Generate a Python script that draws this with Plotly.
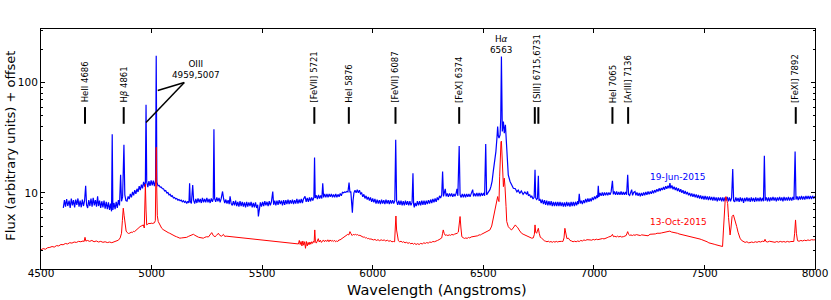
import math
import plotly.graph_objects as go

# ---------------- data (wavelength in Angstrom, flux in arbitrary units + offset) ----------------
jun_points = [
    (4601,7.3),(4606,8.6),(4611,7.5),(4616,8.8),(4621,7.6),(4627,8.5),(4632,7.3),(4637,8.9),(4642,7.7),(4647,8.6),
    (4652,7.4),(4657,8.7),(4662,7.8),(4667,8.9),(4672,7.5),(4677,8.5),(4682,7.4),(4687,8.7),(4692,7.6),(4697,8.5),
    (4702,11.6),(4706,7.8),(4711,7.3),(4716,8.6),(4721,7.6),(4726,8.9),(4731,7.5),(4736,9.0),(4741,7.7),(4746,8.6),
    (4751,7.5),(4756,9.3),(4760,7.6),(4765,8.5),(4770,7.3),(4775,8.4),(4780,7.4),(4785,8.5),(4790,7.2),(4795,8.3),
    (4800,7.1),(4805,8.2),(4810,7.0),(4815,8.0),(4819,6.8),(4822,34.0),(4825,7.0),(4830,8.1),(4835,7.1),(4840,8.3),
    (4845,7.3),(4850,8.6),(4855,7.7),(4860,14.6),(4864,8.4),(4869,9.2),(4875,27.3),(4879,9.6),(4884,8.5),(4889,8.4),
    (4894,9.3),(4899,8.8),(4904,9.8),(4909,9.1),(4914,10.2),(4919,9.5),(4924,10.6),(4929,9.8),(4934,10.9),(4939,10.2),
    (4944,11.5),(4949,10.6),(4954,11.9),(4959,11.0),(4964,12.6),(4969,11.4),(4972,12.4),(4975,63.0),(4978,12.6),(4983,11.3),
    (4988,12.8),(4993,11.6),(4998,13.0),(5003,11.7),(5008,12.9),(5013,11.5),(5018,12.8),(5021,176.0),(5024,12.5),(5029,11.6),
    (5034,11.7),(5039,11.3),(5044,11.3),(5049,10.9),(5054,10.9),(5059,10.4),(5064,10.5),(5069,10.0),(5074,10.1),(5079,9.6),
    (5084,9.7),(5089,9.3),(5094,9.4),(5099,9.0),(5104,9.1),(5109,8.8),(5114,8.9),(5119,8.6),(5124,8.7),(5129,8.5),
    (5134,8.6),(5139,8.3),(5144,8.5),(5149,8.2),(5154,8.4),(5159,8.0),(5164,8.4),(5169,8.1),(5172,12.2),(5175,8.4),
    (5180,8.0),(5186,11.8),(5190,8.6),(5195,8.0),(5200,8.8),(5205,8.1),(5210,8.9),(5215,8.2),(5220,8.8),(5225,8.1),
    (5230,9.0),(5235,8.2),(5240,8.8),(5245,8.2),(5250,9.0),(5255,8.2),(5260,8.8),(5265,8.1),(5270,8.9),(5275,8.3),
    (5279,8.8),(5282,37.9),(5285,8.9),(5290,8.3),(5295,9.1),(5300,8.4),(5305,9.0),(5310,8.2),(5315,8.9),(5321,10.3),
    (5326,8.8),(5331,8.1),(5336,8.7),(5341,8.0),(5346,8.6),(5351,7.9),(5355,9.3),(5360,8.0),(5365,7.7),(5370,8.4),
    (5375,7.7),(5380,8.5),(5385,7.6),(5390,8.3),(5395,7.5),(5400,8.4),(5405,7.6),(5410,8.3),(5415,7.5),(5420,8.2),
    (5425,7.4),(5430,8.3),(5435,7.5),(5440,8.2),(5445,7.6),(5450,8.3),(5455,7.4),(5460,8.1),(5465,7.4),(5470,8.2),
    (5475,7.3),(5480,7.8),(5483,6.1),(5487,7.5),(5492,8.2),(5497,7.5),(5502,8.3),(5507,7.6),(5512,8.4),(5517,7.7),
    (5522,8.3),(5527,7.6),(5532,8.4),(5537,7.7),(5542,8.3),(5548,10.3),(5552,7.8),(5557,8.5),(5562,7.7),(5567,8.5),
    (5572,7.8),(5577,8.6),(5582,7.9),(5587,8.5),(5592,7.7),(5597,8.6),(5602,7.8),(5607,8.6),(5612,7.9),(5617,8.7),
    (5622,7.9),(5627,8.6),(5632,8.0),(5637,8.7),(5642,7.9),(5647,8.6),(5652,8.0),(5657,8.8),(5662,8.0),(5667,8.7),
    (5672,8.1),(5677,8.8),(5682,8.1),(5687,8.8),(5694,9.3),(5699,8.3),(5704,9.0),(5709,8.3),(5714,9.1),(5719,8.4),
    (5724,9.1),(5729,8.5),(5734,9.1),(5737,20.9),(5740,9.0),(5745,9.5),(5750,8.8),(5755,9.6),(5760,8.9),(5765,9.5),
    (5770,8.9),(5774,12.2),(5778,9.1),(5783,9.8),(5788,9.1),(5793,9.8),(5798,9.1),(5803,9.8),(5808,9.2),(5813,9.8),
    (5818,9.1),(5823,9.7),(5828,9.1),(5833,9.8),(5838,9.1),(5843,9.7),(5848,9.2),(5853,9.9),(5858,9.4),(5863,10.1),
    (5868,10.0),(5873,10.2),(5878,10.1),(5883,10.3),(5888,10.2),(5893,12.4),(5897,10.1),(5901,10.3),(5905,8.0),(5908,6.6),
    (5911,8.5),(5915,10.0),(5920,10.6),(5925,10.0),(5930,10.7),(5935,10.0),(5940,10.6),(5945,9.8),(5950,10.0),(5955,9.2),
    (5960,9.7),(5965,8.9),(5970,9.4),(5975,8.7),(5980,9.2),(5985,8.5),(5990,9.1),(5995,8.3),(6000,8.9),(6005,8.2),
    (6010,8.8),(6015,8.0),(6020,8.7),(6025,8.0),(6030,8.6),(6035,7.9),(6040,8.7),(6045,8.0),(6050,8.6),(6055,7.9),
    (6060,8.7),(6065,8.0),(6070,8.6),(6075,7.9),(6080,8.6),(6085,8.0),(6090,8.6),(6095,8.0),(6100,8.5),(6104,30.3),
    (6108,8.4),(6113,7.8),(6118,8.5),(6123,7.8),(6128,8.5),(6133,7.7),(6138,8.4),(6143,7.7),(6148,8.5),(6153,7.8),
    (6158,8.4),(6163,7.7),(6168,8.4),(6173,7.7),(6178,8.2),(6182,15.1),(6185,7.9),(6188,7.4),(6192,8.1),(6197,7.6),
    (6202,8.4),(6207,7.7),(6212,8.4),(6217,7.7),(6222,8.5),(6227,7.8),(6232,8.5),(6237,7.8),(6242,8.5),(6247,7.9),
    (6252,8.6),(6257,8.0),(6262,8.7),(6267,8.1),(6272,8.8),(6277,8.2),(6282,8.9),(6287,8.3),(6292,9.1),(6297,8.6),
    (6302,9.4),(6307,9.0),(6312,9.6),(6316,15.6),(6320,9.3),(6324,9.9),(6328,10.9),(6332,9.3),(6337,9.9),(6342,9.2),
    (6347,9.9),(6352,9.3),(6357,9.9),(6362,9.2),(6367,9.8),(6372,9.3),(6377,9.9),(6381,10.9),(6385,9.4),(6391,26.7),
    (6395,9.6),(6400,9.1),(6405,9.8),(6410,9.1),(6415,9.8),(6420,9.1),(6425,9.8),(6430,9.2),(6435,9.8),(6440,9.2),
    (6445,9.8),(6452,10.7),(6456,9.3),(6461,9.9),(6466,9.3),(6471,10.0),(6476,9.3),(6481,10.0),(6486,9.3),(6491,10.0),
    (6496,9.4),(6501,10.0),(6506,9.4),(6511,27.8),(6515,9.6),(6520,9.9),(6525,10.2),(6530,10.7),(6535,11.5),(6540,12.8),
    (6545,15.6),(6550,18.5),(6557,23.7),(6562,32.0),(6565,40.0),(6568,33.0),(6571,31.4),(6576,33.7),(6579,48.0),(6582,173.0),
    (6584,60.0),(6586,36.1),(6591,44.5),(6595,34.9),(6600,41.5),(6606,22.2),(6613,14.6),(6621,12.7),(6628,11.7),(6636,11.0),
    (6645,10.9),(6652,10.2),(6658,10.6),(6665,9.9),(6672,10.4),(6680,9.7),(6688,10.2),(6696,9.7),(6700,10.3),(6704,9.5),
    (6710,9.6),(6715,9.1),(6719,9.4),(6725,8.8),(6730,9.1),(6734,16.2),(6737,9.0),(6741,8.7),(6745,8.9),(6749,14.3),
    (6752,8.5),(6756,8.8),(6762,8.1),(6767,8.7),(6772,7.9),(6777,8.6),(6782,7.8),(6787,8.5),(6792,7.7),(6797,8.4),
    (6802,7.7),(6807,8.4),(6812,7.6),(6817,8.3),(6822,7.6),(6827,8.3),(6832,7.6),(6837,8.3),(6842,7.6),(6847,8.3),
    (6852,7.6),(6857,8.2),(6862,7.5),(6867,8.2),(6872,7.5),(6877,8.3),(6882,7.6),(6887,8.2),(6892,7.5),(6897,8.3),
    (6902,7.6),(6907,8.3),(6912,7.6),(6917,8.3),(6922,7.7),(6927,8.4),(6930,7.9),(6934,9.8),(6938,8.0),(6943,8.5),
    (6948,7.9),(6953,8.6),(6958,8.1),(6963,8.8),(6968,8.2),(6973,8.9),(6978,8.3),(6983,8.9),(6988,8.4),(6993,9.1),
    (6998,8.6),(7003,9.3),(7008,8.8),(7013,9.5),(7017,9.0),(7020,11.6),(7023,9.2),(7028,10.0),(7033,9.4),(7038,10.1),
    (7043,9.4),(7048,10.1),(7053,9.5),(7058,10.1),(7063,9.5),(7068,10.1),(7073,9.6),(7078,10.2),(7084,12.9),(7088,9.7),
    (7093,10.3),(7098,9.6),(7103,10.3),(7108,9.6),(7113,10.2),(7118,9.6),(7123,10.3),(7128,9.6),(7133,10.2),(7138,9.6),
    (7143,10.2),(7148,9.6),(7153,14.6),(7157,9.7),(7162,9.5),(7167,10.1),(7171,10.7),(7175,9.5),(7180,10.1),(7186,10.3),
    (7190,9.5),(7195,10.1),(7200,9.4),(7205,10.0),(7210,9.3),(7215,10.0),(7220,9.4),(7225,10.1),(7230,9.5),(7235,10.2),
    (7240,9.6),(7245,10.3),(7250,9.7),(7255,10.3),(7260,9.8),(7265,10.5),(7270,9.9),(7275,10.6),(7280,10.1),(7285,10.8),
    (7290,10.3),(7295,11.0),(7300,10.4),(7305,11.1),(7310,10.6),(7315,11.3),(7320,10.7),(7325,11.5),(7330,10.9),(7335,11.6),
    (7340,11.0),(7344,12.3),(7348,11.0),(7353,11.7),(7358,10.8),(7363,11.4),(7368,10.6),(7373,11.2),(7378,10.4),(7383,11.0),
    (7388,10.2),(7393,10.8),(7398,10.0),(7403,10.6),(7408,9.8),(7413,10.4),(7418,9.7),(7423,10.2),(7428,9.5),(7433,10.0),
    (7438,9.3),(7443,9.9),(7448,9.2),(7453,9.8),(7458,9.1),(7463,9.7),(7468,9.0),(7473,9.6),(7478,8.9),(7483,9.5),
    (7488,8.8),(7493,9.4),(7498,8.7),(7503,9.4),(7508,8.7),(7513,9.3),(7518,8.6),(7523,9.3),(7528,8.6),(7533,9.2),
    (7538,8.5),(7543,9.2),(7548,8.5),(7553,9.1),(7558,8.4),(7563,9.1),(7568,8.5),(7573,9.1),(7578,8.4),(7583,9.1),
    (7588,8.4),(7593,9.1),(7598,8.5),(7603,9.2),(7608,8.4),(7613,9.1),(7618,8.4),(7623,9.0),(7628,16.5),(7632,8.5),
    (7637,8.3),(7642,9.1),(7647,8.4),(7652,9.0),(7657,8.3),(7662,9.1),(7667,8.4),(7672,9.0),(7677,8.1),(7682,9.0),
    (7687,8.4),(7692,9.1),(7697,8.4),(7702,9.0),(7707,8.3),(7712,9.1),(7717,8.4),(7722,9.0),(7727,8.3),(7732,9.1),
    (7737,8.4),(7742,9.0),(7747,8.4),(7752,9.1),(7757,8.4),(7762,9.0),(7767,8.4),(7771,21.7),(7775,8.5),(7780,9.1),
    (7785,8.4),(7790,9.1),(7795,8.4),(7800,9.1),(7805,8.5),(7810,9.2),(7815,8.5),(7820,9.1),(7825,8.4),(7830,9.1),
    (7835,8.5),(7840,9.2),(7845,8.5),(7850,9.1),(7855,8.4),(7860,9.2),(7865,8.5),(7870,9.1),(7875,8.5),(7880,9.2),
    (7885,8.5),(7890,9.1),(7895,8.5),(7900,9.2),(7905,8.6),(7910,23.7),(7914,8.7),(7919,9.3),(7924,8.6),(7929,9.3),
    (7934,8.7),(7939,9.4),(7944,8.7),(7949,9.3),(7954,8.7),(7959,9.4),(7964,8.8),(7969,9.4),(7974,8.8),(7979,9.4),
    (7984,8.8),(7989,9.4),(7994,8.9),(7999,9.3),
]

oct_points = [
    (4500,3.05),(4510,3.12),(4520,3.08),(4530,3.18),(4540,3.2),(4550,3.26),(4560,3.22),(4570,3.32),(4580,3.3),(4590,3.4),
    (4600,3.38),(4610,3.47),(4620,3.44),(4630,3.53),(4640,3.5),(4650,3.58),(4660,3.55),(4670,3.63),(4680,3.6),(4690,3.66),
    (4695,3.62),(4699,3.95),(4703,3.65),(4710,3.7),(4720,3.63),(4730,3.7),(4740,3.6),(4750,3.66),(4760,3.58),(4770,3.63),
    (4780,3.56),(4790,3.6),(4800,3.54),(4810,3.58),(4820,3.53),(4830,3.6),(4840,3.64),(4850,3.72),(4858,3.9),(4864,4.3),
    (4868,5.6),(4872,7.26),(4876,6.2),(4880,4.94),(4885,4.5),(4890,4.36),(4896,4.28),(4902,4.32),(4908,4.4),(4913,4.36),
    (4918,4.48),(4923,4.45),(4928,4.56),(4933,4.62),(4938,4.7),(4943,4.82),(4948,4.94),(4953,5.0),(4958,5.08),(4963,5.12),
    (4967,4.8),(4970,7.0),(4972,12.0),(4975,7.0),(4978,5.12),(4983,5.2),(4988,5.3),(4993,5.25),(4998,5.32),(5003,5.27),
    (5008,5.3),(5013,5.35),(5017,5.6),(5019,9.0),(5021,26.0),(5023,12.0),(5026,6.2),(5030,5.5),(5036,5.2),(5041,4.95),
    (5046,4.77),(5052,4.65),(5058,4.55),(5063,4.5),(5068,4.45),(5075,4.36),(5082,4.3),(5090,4.2),(5098,4.15),(5106,4.05),
    (5113,4.0),(5120,3.93),(5128,3.88),(5136,3.9),(5144,3.92),(5152,3.9),(5159,3.95),(5166,4.02),(5174,4.1),(5182,4.18),
    (5189,4.21),(5196,4.12),(5204,4.0),(5212,3.96),(5219,3.93),(5226,3.9),(5234,3.88),(5241,3.95),(5249,4.0),(5257,3.98),
    (5265,4.15),(5272,4.36),(5279,4.1),(5287,4.0),(5294,4.12),(5302,4.3),(5309,4.1),(5317,4.05),(5325,4.2),(5331,4.02),
    (5337,4.05),
    (5664,3.44),(5668,3.7),(5672,3.4),(5676,3.62),(5680,3.3),(5684,3.66),(5688,3.35),(5692,3.6),(5696,3.14),(5700,3.62),
    (5704,3.3),(5708,3.55),(5712,3.38),(5716,3.58),(5720,3.42),(5724,3.6),(5728,3.48),(5732,3.64),(5735,3.55),(5738,4.61),
    (5741,3.6),(5745,3.5),(5750,3.7),(5754,3.84),(5758,3.58),(5763,3.72),(5768,3.55),(5773,3.7),(5777,3.74),(5782,3.6),
    (5787,3.72),(5792,3.62),(5797,3.75),(5802,3.6),(5807,3.74),(5812,3.64),(5817,3.7),(5822,3.62),(5827,3.72),(5832,3.6),
    (5837,3.66),(5842,3.62),(5847,3.74),(5852,3.74),(5857,3.8),(5862,3.84),(5867,3.88),(5872,3.95),(5877,4.0),(5882,4.08),
    (5887,4.2),(5892,4.15),(5897,4.45),(5902,4.25),(5907,4.1),(5912,4.2),(5917,4.16),(5922,4.2),(5927,4.15),(5932,4.18),
    (5937,4.1),(5942,4.12),(5947,4.05),(5952,4.02),(5957,3.96),(5962,3.98),(5967,3.9),(5972,3.92),(5977,3.84),(5982,3.86),
    (5987,3.8),(5992,3.82),(5997,3.75),(6003,3.74),(6010,3.78),(6017,3.7),(6024,3.76),(6031,3.68),(6038,3.75),(6045,3.7),
    (6052,3.74),(6059,3.66),(6066,3.72),(6073,3.64),(6080,3.68),(6087,3.6),(6094,3.62),(6099,3.6),(6102,4.8),(6105,6.17),
    (6108,4.6),(6112,3.8),(6116,3.68),(6122,3.6),(6128,3.64),(6134,3.56),(6140,3.6),(6146,3.52),(6153,3.56),(6160,3.48),
    (6166,3.54),(6172,3.44),(6178,3.5),(6184,3.42),(6190,3.48),(6196,3.4),(6203,3.46),(6210,3.4),(6217,3.48),(6224,3.44),
    (6231,3.52),(6238,3.48),(6244,3.54),(6251,3.5),(6258,3.58),(6265,3.55),(6272,3.62),(6279,3.6),(6286,3.68),(6293,3.7),
    (6300,3.76),(6306,3.82),(6312,3.9),(6316,4.3),(6319,4.61),(6323,4.3),(6328,4.12),(6334,4.15),(6340,4.1),(6346,4.16),
    (6352,4.12),(6358,4.2),(6364,4.15),(6370,4.22),(6376,4.25),(6382,4.3),(6387,4.4),(6391,5.5),(6395,6.1),(6399,4.8),
    (6403,4.0),(6409,3.92),(6415,3.86),(6421,3.9),(6427,3.86),(6433,3.94),(6439,3.9),(6445,3.98),(6451,4.0),(6457,4.05),
    (6463,4.02),(6469,4.1),(6475,4.08),(6481,4.16),(6487,4.15),(6493,4.22),(6500,4.3),(6507,4.38),(6515,4.5),(6522,4.55),
    (6530,4.61),(6538,5.0),(6545,5.89),(6551,6.6),(6557,7.26),(6562,8.4),(6565,9.26),(6568,8.6),(6571,8.34),(6574,14.0),
    (6577,27.3),(6580,29.0),(6582,29.5),(6584,25.0),(6586,19.3),(6589,13.0),(6591,11.4),(6593,12.5),(6595,13.6),(6598,11.5),
    (6600,10.3),(6603,7.5),(6606,5.5),(6610,5.1),(6613,4.94),(6620,4.75),(6628,4.61),(6635,4.8),(6640,5.05),(6645,5.12),
    (6650,4.95),(6656,4.84),(6662,4.6),(6668,4.4),(6673,4.3),(6680,4.22),(6688,4.15),(6696,4.09),(6703,4.02),(6711,3.95),
    (6719,3.88),(6726,3.9),(6731,4.2),(6734,5.12),(6737,4.4),(6741,4.3),(6745,4.5),(6749,4.77),(6753,4.3),(6758,3.95),
    (6764,3.88),(6770,3.75),(6776,3.68),(6782,3.64),(6788,3.6),(6794,3.64),(6800,3.58),(6806,3.62),(6812,3.56),(6818,3.62),
    (6824,3.57),(6830,3.63),(6836,3.58),(6842,3.62),(6848,3.6),(6854,3.63),(6860,3.62),(6865,3.9),(6869,4.77),(6873,4.1),
    (6878,3.85),(6885,3.88),(6892,3.7),(6899,3.66),(6906,3.6),(6913,3.64),(6920,3.6),(6927,3.66),(6934,3.62),(6941,3.7),
    (6948,3.66),(6955,3.74),(6962,3.7),(6969,3.76),(6976,3.72),(6983,3.74),(6990,3.72),(6997,3.78),(7004,3.74),(7011,3.8),
    (7018,3.76),(7025,3.8),(7032,3.78),(7039,3.85),(7046,3.82),(7053,3.9),(7060,3.92),(7067,3.98),(7073,4.0),(7079,4.05),
    (7084,4.2),(7089,4.0),(7095,4.04),(7101,3.98),(7107,4.05),(7113,3.98),(7119,4.04),(7125,3.98),(7133,4.0),(7140,4.06),
    (7146,4.1),(7150,4.3),(7153,4.45),(7157,4.2),(7162,4.12),(7168,4.15),(7174,4.1),(7180,4.16),(7186,4.12),(7192,4.18),
    (7198,4.14),(7204,4.15),(7210,4.1),(7216,4.16),(7224,4.15),(7231,4.1),(7238,4.14),(7245,4.08),(7254,4.21),(7262,4.2),
    (7270,4.25),(7278,4.24),(7286,4.3),(7293,4.27),(7299,4.3),(7306,4.33),(7313,4.36),(7320,4.38),(7327,4.4),(7334,4.42),
    (7340,4.45),(7344,4.5),(7350,4.42),(7357,4.4),(7364,4.36),(7371,4.32),(7378,4.3),(7385,4.24),(7392,4.21),(7400,4.18),
    (7408,4.12),(7416,4.1),(7424,4.04),(7432,4.02),(7440,3.98),(7448,3.95),(7456,3.9),(7464,3.88),(7472,3.84),(7480,3.81),
    (7488,3.76),(7496,3.72),(7504,3.64),(7512,3.6),(7520,3.52),(7528,3.5),(7536,3.45),(7544,3.42),(7552,3.38),(7560,3.35),
    (7568,3.32),(7576,3.28),(7582,3.26),(7586,4.6),(7590,7.0),(7594,8.7),(7597,9.26),(7600,8.8),(7605,8.0),(7609,6.0),
    (7613,4.6),(7616,4.15),(7620,4.8),(7625,6.1),(7631,6.31),(7637,5.8),(7642,5.3),(7646,4.94),(7652,4.4),(7656,4.1),
    (7661,3.88),(7668,3.7),(7676,3.61),(7684,3.55),(7692,3.6),(7700,3.52),(7706,3.54),(7714,3.58),(7722,3.54),(7730,3.6),
    (7738,3.56),(7746,3.62),(7754,3.58),(7762,3.64),(7770,3.62),(7774,3.79),(7778,3.62),(7786,3.58),(7794,3.64),(7802,3.6),
    (7811,3.61),(7819,3.56),(7827,3.62),(7835,3.57),(7843,3.63),(7851,3.58),(7859,3.62),(7867,3.57),(7875,3.63),(7883,3.58),
    (7891,3.62),(7898,3.6),(7904,3.62),(7908,4.3),(7912,5.68),(7916,4.3),(7921,3.68),(7928,3.64),(7936,3.7),(7944,3.66),
    (7952,3.72),(7960,3.68),(7968,3.74),(7976,3.7),(7984,3.76),(7992,3.74),(8000,3.75),
]

# emission-line identifications: label text and observed wavelength of marker
line_labels = ["HeII 4686", "H<i>β</i> 4861", "[FeVII] 5721", "HeI 5876", "[FeVII] 6087",
               "[FeX] 6374", "[SIII] 6715,6731", "HeI 7065", "[ArIII] 7136", "[FeXI] 7892"]
line_label_wl = [4699, 4874, 5736, 5892, 6103, 6391, 6741, 7084, 7155, 7913]
marker_wl = [4699, 4874, 5736, 5892, 6103, 6391, 6733, 6749, 7084, 7155, 7913]
marker_flux = (42.4, 60.1)
label_base_flux = 63.0

halpha_label = ("H<i>α</i><br>6563", 6582, 172.0)
oiii_label = ("OIII<br>4959,5007", 5201, 101.0)
oiii_pointers = [((5148, 100.6), (5028, 85.0)), ((5148, 100.6), (4975, 43.6))]

series_names = ["19-Jun-2015", "13-Oct-2015"]
series_colors = ["#0000ff", "#ff0000"]
series_label_pos = [(7245, 14.0), (7245, 5.45)]

x_range = (4500, 8000)
y_log_range = (0.309, 2.488)

# ---------------- figure ----------------
FONT = "DejaVu Sans"
fig = go.Figure()
for pts, name, col, w in zip([jun_points, oct_points], series_names, series_colors, [1.2, 1.0]):
    wl, fx = zip(*pts)
    fig.add_trace(go.Scatter(x=list(wl), y=list(fx), mode="lines", name=name,
                             line=dict(color=col, width=w), showlegend=False))

L = math.log10
shapes = []
# shapes on a log axis take data values
for w in marker_wl:
    shapes.append(dict(type="line", xref="x", yref="y", x0=w, x1=w,
                       y0=marker_flux[0], y1=marker_flux[1],
                       line=dict(color="black", width=2)))
for (a, b) in oiii_pointers:
    shapes.append(dict(type="line", xref="x", yref="y", x0=a[0], y0=a[1], x1=b[0], y1=b[1],
                       line=dict(color="black", width=1.5)))

# annotations on a log axis take log10 values
annotations = []
for txt, w in zip(line_labels, line_label_wl):
    annotations.append(dict(x=w, y=L(label_base_flux), xref="x", yref="y", text=txt,
                            textangle=-90, showarrow=False, xanchor="center", yanchor="bottom",
                            font=dict(family=FONT, size=8.5, color="black")))
for txt, w, f in [halpha_label, oiii_label]:
    annotations.append(dict(x=w, y=L(f), xref="x", yref="y", text=txt, showarrow=False,
                            xanchor="center", yanchor="bottom",
                            font=dict(family=FONT, size=8.8, color="black")))
for name, col, (w, f) in zip(series_names, series_colors, series_label_pos):
    annotations.append(dict(x=w, y=L(f), xref="x", yref="y", text=name, showarrow=False,
                            xanchor="left", yanchor="middle",
                            font=dict(family=FONT, size=9, color=col)))
annotations.append(dict(x=0.512, y=-0.0855, xref="paper", yref="paper", text="Wavelength (Angstroms)",
                        showarrow=False, xanchor="center", yanchor="middle",
                        font=dict(family=FONT, size=14.5, color="black")))
annotations.append(dict(x=-0.052, y=0.515, xref="paper", yref="paper", text="Flux (arbitrary units) + offset",
                        showarrow=False, xanchor="left", yanchor="middle", textangle=-90,
                        font=dict(family=FONT, size=13, color="black")))

fig.update_layout(
    template=None,
    width=831, height=300,
    margin=dict(l=41, r=16, t=29, b=31, autoexpand=False),
    paper_bgcolor="white", plot_bgcolor="white",
    font=dict(family=FONT, size=10, color="black"),
    shapes=shapes, annotations=annotations,
    showlegend=False,
)
fig.update_xaxes(range=list(x_range), tick0=4500, dtick=500, ticks="inside", ticklen=4,
                 tickcolor="black", showline=True, linecolor="black", linewidth=1, mirror="ticks",
                 showgrid=False, zeroline=False, automargin=False, ticklabelstandoff=-6,
                 tickfont=dict(family=FONT, size=10.5))
fig.update_yaxes(type="log", range=list(y_log_range), dtick=1, ticks="inside", ticklen=4,
                 tickcolor="black", showline=True, linecolor="black", linewidth=1, mirror="ticks",
                 showgrid=False, zeroline=False, automargin=False,
                 tickfont=dict(family=FONT, size=10.5),
                 minor=dict(ticks="inside", ticklen=2, tickcolor="black", showgrid=False))

# the page's default body margin would shift the figure; remove it
fig.write_html("out.html", config={"displayModeBar": False},
               post_script="document.body.style.margin='0px';")
